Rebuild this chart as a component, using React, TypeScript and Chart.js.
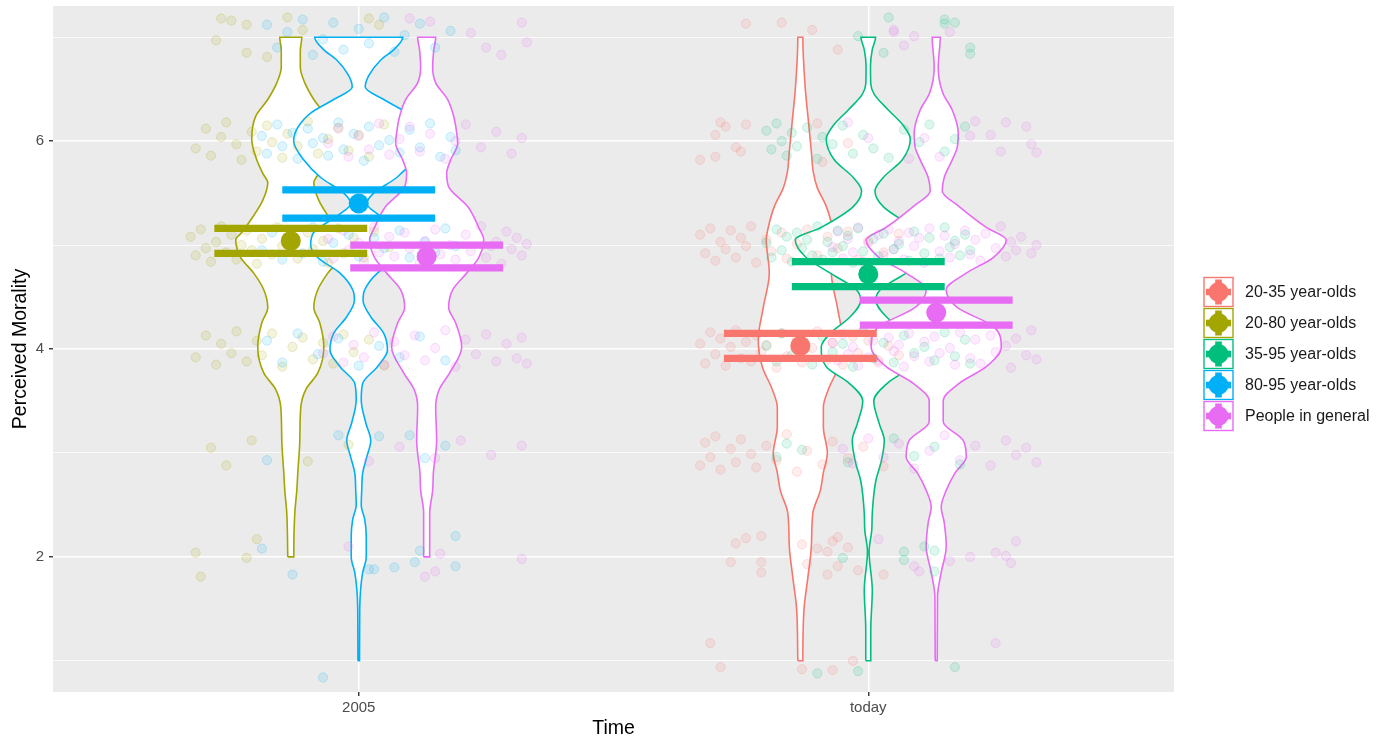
import React, { useEffect, useRef } from "react";
import { Chart, registerables } from "chart.js";

Chart.register(...registerables);

// ---------------- categories & labels ----------------
const timeLabels = ["2005", "today"];
const groupNames = ["20-35 year-olds", "20-80 year-olds", "35-95 year-olds", "80-95 year-olds", "People in general"];
const groupColors = ["#F8766D", "#A3A500", "#00BF7D", "#00B0F6", "#E76BF3"];
const yTickValues = [1, 2, 3, 4, 5, 6, 7];
const xAxisTitle = "Time";
const yAxisTitle = "Perceived Morality";

// ---------------- means with confidence bounds ----------------
const meanGroups = [0, 1, 2, 3, 4, 4];
const meanTimes = [1, 0, 1, 0, 0, 1];
const meanSlots = [0, 0, 1, 1, 2, 2];
const meanValues = [4.03, 5.04, 4.72, 5.40, 4.89, 4.35];
const upperValues = [4.15, 5.16, 4.84, 5.53, 5.00, 4.47];
const lowerValues = [3.91, 4.92, 4.60, 5.26, 4.78, 4.23];

// ---------------- violin density profiles (level, half-width in density units) ----------------
const violinRed2035Today = [[1.0, 2.5], [1.5, 3.7], [1.8, 7.5], [2.1, 11], [2.42, 12.5], [2.64, 20], [2.81, 23], [3.0, 27], [3.25, 23], [3.44, 23], [3.61, 28], [3.83, 38], [4.09, 42], [4.4, 37], [4.73, 31], [5.05, 34], [5.17, 32], [5.37, 26], [5.55, 17], [5.7, 13], [5.9, 11], [6.2, 8], [6.5, 5], [7.0, 2.5]];
const violinOlive2080_2005 = [[2.0, 3], [2.42, 4], [2.64, 6], [2.81, 7], [3.12, 9], [3.44, 10], [3.61, 15], [3.77, 27], [4.02, 33], [4.25, 29], [4.4, 23], [4.57, 27], [4.73, 37], [4.88, 50], [5.05, 55], [5.12, 49], [5.27, 38], [5.43, 28], [5.6, 23], [5.69, 28], [5.82, 34], [6.02, 39], [6.24, 35], [6.4, 23], [6.56, 14], [6.71, 9.5], [6.87, 9.5], [7.0, 11]];
const violinGreen3595Today = [[1.0, 2.5], [1.3, 2.5], [1.68, 4], [2.05, 0.8], [2.26, 3.5], [2.42, 4], [2.73, 7.5], [2.92, 13], [3.12, 16], [3.28, 11], [3.5, 5.5], [3.67, 19], [3.83, 42], [4.02, 47], [4.15, 38], [4.31, 18], [4.47, 7.5], [4.57, 12], [4.73, 38], [4.88, 62], [5.05, 73], [5.17, 47], [5.37, 15], [5.52, 6.7], [5.65, 15], [5.82, 34], [6.02, 42], [6.15, 35], [6.3, 20], [6.45, 6], [6.55, 2.5], [6.72, 2.2], [6.88, 4], [7.0, 7.3]];
const violinBlue8095_2005 = [[1.0, 0.8], [1.5, 1], [1.7, 2], [1.85, 4], [2.0, 7.5], [2.2, 7.5], [2.36, 6], [2.5, 2.5], [2.64, 3], [2.81, 4], [2.96, 8], [3.12, 12], [3.29, 7], [3.51, 2.5], [3.67, 4], [3.83, 18.7], [3.99, 28.7], [4.15, 25], [4.31, 12], [4.47, 4.3], [4.57, 6], [4.73, 18.7], [4.88, 41], [5.0, 48], [5.12, 45], [5.29, 20], [5.4, 8], [5.5, 15], [5.65, 38], [5.82, 55], [6.0, 65], [6.13, 61], [6.27, 48], [6.4, 25], [6.52, 6.5], [6.63, 10], [6.78, 22], [6.88, 35], [7.0, 44]];
const violinPink2005 = [[2.0, 3], [2.42, 3], [2.64, 6], [2.81, 6.7], [3.12, 10], [3.44, 9], [3.61, 12.5], [3.77, 23], [4.02, 35], [4.25, 29], [4.4, 22], [4.57, 26], [4.73, 40], [4.88, 52], [5.05, 57], [5.17, 52], [5.37, 41], [5.56, 22], [5.69, 20], [5.82, 24], [5.98, 31], [6.08, 30], [6.24, 27], [6.4, 21], [6.56, 9], [6.71, 6], [6.87, 7], [7.0, 9]];
const violinPinkToday = [[1.0, 1], [1.62, 1.3], [1.85, 5], [2.1, 10], [2.33, 8], [2.48, 5], [2.64, 10], [2.81, 19], [2.96, 30], [3.12, 27], [3.3, 7], [3.5, 7], [3.67, 23], [3.83, 50], [4.02, 65], [4.21, 58], [4.4, 21], [4.57, 10], [4.73, 30], [4.88, 57], [5.05, 70], [5.17, 50], [5.37, 23], [5.52, 6], [5.65, 8], [5.82, 16], [5.94, 21], [6.08, 22], [6.3, 16], [6.46, 6.7], [6.71, 2], [7.0, 4]];

// ---------------- jittered raw responses (x on the time axis, y rating) ----------------
const pointsRedToday = [
  [1.76, 7.13], [1.83, 7.14], [1.89, 7.07], [1.94, 6.88],
  [1.71, 6.18], [1.72, 6.14], [1.70, 6.06], [1.76, 6.16], [1.74, 5.94], [1.75, 5.9], [1.70, 5.85], [1.67, 5.82], [1.90, 6.17], [1.96, 5.98], [1.91, 5.8],
  [1.67, 5.1], [1.68, 4.92], [1.69, 5.16], [1.70, 4.85], [1.71, 5.03], [1.72, 4.96], [1.73, 5.14], [1.74, 4.88], [1.75, 5.07], [1.76, 4.99], [1.77, 5.18], [1.78, 4.83], [1.80, 5.05], [1.81, 4.94], [1.83, 5.12], [1.84, 4.87], [1.86, 5.01], [1.88, 5.15], [1.90, 4.9], [1.92, 5.08], [1.94, 4.97], [1.96, 5.13], [1.98, 4.86], [2.00, 5.04], [2.03, 4.93], [2.06, 5.11],
  [1.67, 4.05], [1.68, 3.86], [1.69, 4.16], [1.70, 3.95], [1.71, 4.1], [1.72, 3.84], [1.73, 4.02], [1.74, 4.18], [1.75, 3.91], [1.76, 4.07], [1.77, 3.88], [1.78, 4.13], [1.79, 3.97], [1.80, 4.04], [1.82, 3.82], [1.83, 4.15], [1.84, 3.93], [1.86, 4.09], [1.87, 3.87], [1.89, 4.01], [1.90, 4.17], [1.92, 3.9], [1.93, 4.06], [1.95, 3.85], [1.97, 4.12], [1.98, 3.96], [2.00, 4.08], [2.02, 3.89], [2.04, 4.03], [2.06, 3.94],
  [1.67, 2.88], [1.68, 3.1], [1.69, 2.96], [1.70, 3.16], [1.71, 2.84], [1.73, 3.04], [1.74, 2.91], [1.75, 3.13], [1.77, 2.99], [1.78, 2.86], [1.80, 3.07], [1.82, 2.93], [1.84, 3.18], [1.86, 2.82], [1.88, 3.02], [1.91, 2.89], [1.93, 3.11], [1.96, 2.95], [1.99, 3.06], [2.03, 2.87],
  [1.74, 2.13], [1.76, 2.18], [1.79, 2.2], [1.73, 1.95], [1.79, 1.95], [1.79, 1.85], [1.87, 2.12], [1.90, 2.08], [1.92, 2.05], [1.93, 2.15], [1.94, 2.19], [1.96, 2.09], [1.88, 1.93], [1.92, 1.83], [1.98, 1.87], [1.94, 1.91], [2.03, 1.83],
  [1.69, 1.17], [1.71, 0.94], [1.87, 0.92], [1.93, 0.91], [1.97, 1.0]
];
const pointsOlive2005 = [
  [0.73, 7.18], [0.75, 7.16], [0.78, 7.12], [0.86, 7.19], [0.89, 7.07], [1.02, 7.18], [1.04, 7.12], [0.72, 6.97], [0.78, 6.85], [0.82, 6.81],
  [0.68, 5.93], [0.70, 6.12], [0.71, 5.86], [0.73, 6.04], [0.74, 6.18], [0.76, 5.97], [0.77, 5.82], [0.79, 6.09], [0.80, 5.9], [0.82, 6.15], [0.83, 5.99], [0.85, 5.84], [0.86, 6.07], [0.88, 5.95], [0.90, 6.19], [0.92, 5.88], [0.94, 6.02], [0.96, 6.13], [0.98, 5.91], [1.00, 6.06], [1.02, 5.85], [1.05, 6.16],
  [0.67, 5.08], [0.68, 4.9], [0.69, 5.15], [0.70, 4.97], [0.71, 4.84], [0.72, 5.03], [0.73, 5.18], [0.74, 4.93], [0.75, 5.1], [0.76, 4.86], [0.77, 5.0], [0.78, 5.14], [0.79, 4.95], [0.80, 4.82], [0.81, 5.06], [0.83, 4.91], [0.84, 5.17], [0.85, 4.99], [0.87, 5.09], [0.88, 4.87], [0.90, 5.12], [0.91, 4.96], [0.93, 5.04], [0.94, 4.83], [0.96, 5.16], [0.97, 4.92], [0.99, 5.07], [1.01, 4.88], [1.03, 5.13], [1.06, 4.98],
  [0.68, 3.92], [0.70, 4.13], [0.72, 3.85], [0.73, 4.05], [0.75, 3.96], [0.76, 4.17], [0.78, 3.88], [0.80, 4.08], [0.81, 3.94], [0.83, 4.15], [0.85, 3.83], [0.87, 4.02], [0.89, 4.11], [0.91, 3.9], [0.93, 4.06], [0.95, 3.86], [0.97, 4.14], [0.99, 3.97], [1.02, 4.09], [1.05, 3.84],
  [0.71, 3.05], [0.74, 2.88], [0.79, 3.12], [0.90, 2.92], [0.98, 3.08],
  [0.68, 2.04], [0.69, 1.81], [0.78, 1.99], [0.80, 2.17]
];
const pointsGreenToday = [
  [2.04, 7.19], [2.15, 7.13], [2.15, 7.17], [2.17, 7.14], [2.20, 6.9], [2.20, 6.84], [2.03, 6.85], [1.98, 7.01],
  [1.80, 6.1], [1.81, 5.92], [1.82, 6.17], [1.83, 6.0], [1.84, 5.86], [1.85, 6.08], [1.86, 5.95], [1.88, 6.13], [1.90, 5.83], [1.91, 6.04], [1.93, 5.97], [1.95, 6.15], [1.97, 5.88], [1.99, 6.06], [2.01, 5.93], [2.04, 5.84], [2.07, 6.11], [2.10, 5.99], [2.12, 6.16], [2.15, 5.9], [2.17, 6.02], [2.19, 6.14],
  [1.80, 5.02], [1.81, 4.88], [1.82, 5.15], [1.83, 4.95], [1.84, 5.08], [1.85, 4.84], [1.86, 5.12], [1.87, 4.97], [1.88, 5.05], [1.89, 4.9], [1.90, 5.18], [1.91, 4.86], [1.92, 5.03], [1.93, 4.93], [1.94, 5.14], [1.95, 4.99], [1.96, 5.09], [1.97, 4.83], [1.98, 5.16], [1.99, 4.94], [2.01, 5.06], [2.02, 4.89], [2.03, 5.11], [2.05, 4.96], [2.06, 5.01], [2.08, 4.85], [2.09, 5.13], [2.11, 4.92], [2.12, 5.07], [2.14, 4.87], [2.15, 5.17], [2.16, 4.98], [2.17, 5.04], [2.18, 4.9], [2.19, 5.1], [2.20, 4.95],
  [1.80, 4.03], [1.82, 3.88], [1.83, 4.15], [1.85, 3.94], [1.87, 4.08], [1.89, 3.85], [1.91, 4.12], [1.93, 3.97], [1.95, 4.05], [1.97, 3.83], [1.99, 4.17], [2.01, 3.91], [2.03, 4.06], [2.05, 3.87], [2.07, 4.13], [2.09, 3.96], [2.11, 4.02], [2.13, 3.89], [2.15, 4.16], [2.17, 3.93], [2.19, 4.09], [2.20, 3.86],
  [1.82, 2.96], [1.84, 3.09], [1.87, 3.03], [1.96, 2.91], [2.05, 3.14], [2.09, 2.97], [2.13, 3.06], [2.18, 2.89],
  [2.07, 2.05], [2.07, 1.97], [2.11, 2.1], [2.13, 2.06], [2.13, 1.86], [1.95, 1.99],
  [1.90, 0.88], [1.98, 0.9], [2.17, 0.94]
];
const pointsBlue2005 = [
  [0.82, 7.12], [0.84, 6.9], [0.86, 7.05], [0.89, 7.17], [0.91, 6.83], [0.93, 6.98], [0.95, 7.14], [0.97, 6.88], [1.00, 7.08], [1.02, 6.94], [1.05, 7.19], [1.07, 6.86], [1.09, 7.02], [1.12, 7.13], [1.15, 6.9], [1.18, 7.06],
  [0.81, 6.05], [0.82, 5.88], [0.84, 6.16], [0.85, 5.95], [0.87, 6.08], [0.88, 5.83], [0.90, 6.12], [0.91, 5.98], [0.93, 6.03], [0.94, 5.86], [0.96, 6.18], [0.97, 5.92], [0.99, 6.07], [1.01, 5.81], [1.02, 6.14], [1.04, 5.96], [1.06, 6.01], [1.08, 5.89], [1.10, 6.11], [1.12, 5.94], [1.14, 6.17], [1.16, 5.85], [1.18, 6.04], [1.19, 5.91],
  [0.81, 4.95], [0.83, 5.12], [0.85, 4.86], [0.87, 5.05], [0.89, 4.92], [0.91, 5.17], [0.93, 4.84], [0.95, 5.02], [0.98, 5.1], [1.00, 4.89], [1.03, 5.07], [1.05, 4.97], [1.08, 5.14], [1.10, 4.88], [1.13, 5.03], [1.15, 4.93], [1.17, 5.16], [1.19, 4.99],
  [0.82, 4.08], [0.85, 3.87], [0.88, 4.15], [0.92, 3.95], [0.96, 4.1], [1.00, 3.84], [1.04, 4.03], [1.08, 3.92], [1.12, 4.12], [1.17, 3.89],
  [0.82, 2.93], [0.96, 3.17], [1.04, 3.16], [1.10, 3.17], [1.13, 2.95], [1.17, 3.07],
  [0.81, 2.08], [0.87, 1.83], [1.02, 1.88], [1.03, 1.88], [1.07, 1.9], [1.11, 1.95], [1.12, 2.06], [1.19, 2.2], [1.19, 1.91],
  [0.93, 0.84]
];
const pointsPink2005 = [
  [1.10, 7.18], [1.14, 7.15], [1.22, 7.04], [1.25, 6.9], [1.28, 6.83], [1.32, 7.14], [1.33, 6.95],
  [0.94, 5.98], [0.96, 6.12], [0.98, 5.85], [1.00, 6.05], [1.02, 5.92], [1.04, 6.17], [1.06, 5.87], [1.08, 6.02], [1.10, 6.14], [1.12, 5.9], [1.14, 6.07], [1.17, 5.83], [1.19, 6.0], [1.21, 6.16], [1.24, 5.94], [1.27, 6.09], [1.30, 5.88], [1.32, 6.03],
  [0.94, 5.06], [0.95, 4.87], [0.97, 5.14], [0.98, 4.95], [1.00, 5.02], [1.01, 4.84], [1.03, 5.17], [1.04, 4.93], [1.06, 5.08], [1.07, 4.89], [1.09, 5.12], [1.10, 4.97], [1.12, 4.83], [1.13, 5.04], [1.15, 5.15], [1.16, 4.91], [1.18, 5.0], [1.19, 4.86], [1.21, 5.1], [1.22, 4.94], [1.24, 5.18], [1.25, 4.88], [1.27, 5.03], [1.28, 4.82], [1.29, 5.13], [1.30, 4.96], [1.31, 5.07], [1.32, 4.9], [1.33, 5.01], [1.26, 4.99],
  [0.93, 3.96], [0.95, 4.12], [0.97, 3.87], [0.99, 4.04], [1.01, 3.92], [1.03, 4.16], [1.05, 3.85], [1.07, 4.07], [1.09, 3.94], [1.11, 4.13], [1.13, 3.89], [1.15, 4.01], [1.17, 4.18], [1.19, 3.83], [1.21, 4.09], [1.23, 3.95], [1.25, 4.14], [1.27, 3.88], [1.29, 4.05], [1.31, 3.91], [1.32, 4.11], [1.33, 3.86],
  [1.02, 2.92], [1.08, 3.06], [1.15, 2.95], [1.20, 3.12], [1.26, 2.98], [1.32, 3.07],
  [0.98, 2.1], [1.13, 1.81], [1.15, 1.86], [1.16, 2.03], [1.32, 1.98]
];
const pointsPinkToday = [
  [2.05, 7.05], [2.05, 7.07], [2.09, 7.01], [2.07, 6.92], [2.16, 7.05],
  [1.96, 6.18], [2.00, 6.03], [2.21, 6.19], [2.27, 6.18], [2.31, 6.14], [2.24, 6.06], [2.26, 5.9], [2.32, 5.97], [2.33, 5.89], [2.20, 6.05], [2.11, 6.03], [2.14, 5.85], [2.08, 5.83],
  [1.93, 4.98], [1.94, 5.13], [1.95, 4.87], [1.96, 5.06], [1.97, 4.93], [1.98, 5.17], [1.99, 4.84], [2.00, 5.02], [2.02, 5.1], [2.03, 4.9], [2.04, 5.15], [2.05, 4.96], [2.06, 5.04], [2.07, 4.86], [2.08, 5.12], [2.09, 4.99], [2.10, 5.07], [2.11, 4.83], [2.12, 5.16], [2.14, 4.94], [2.15, 5.09], [2.16, 4.88], [2.17, 5.01], [2.19, 5.14], [2.20, 4.91], [2.21, 5.05], [2.22, 4.85], [2.23, 5.11], [2.25, 4.97], [2.26, 5.18], [2.27, 4.89], [2.28, 5.03], [2.29, 4.95], [2.30, 5.08], [2.32, 4.92], [2.33, 5.0],
  [1.93, 4.06], [1.94, 3.89], [1.95, 4.14], [1.96, 3.95], [1.97, 4.02], [1.98, 3.84], [1.99, 4.17], [2.00, 3.92], [2.01, 4.08], [2.02, 3.87], [2.04, 4.11], [2.05, 3.98], [2.06, 4.04], [2.07, 3.83], [2.08, 4.15], [2.09, 3.93], [2.11, 4.07], [2.12, 3.88], [2.13, 4.12], [2.14, 3.96], [2.16, 4.01], [2.17, 3.85], [2.18, 4.16], [2.20, 3.91], [2.21, 4.09], [2.22, 3.86], [2.24, 4.13], [2.25, 3.97], [2.27, 4.03], [2.28, 3.82], [2.29, 4.1], [2.31, 3.94], [2.32, 4.18], [2.33, 3.9],
  [1.95, 3.04], [1.97, 2.9], [2.00, 3.14], [2.03, 2.96], [2.06, 3.09], [2.09, 2.85], [2.12, 3.02], [2.15, 3.17], [2.18, 2.93], [2.21, 3.07], [2.24, 2.88], [2.27, 3.12], [2.29, 2.98], [2.31, 3.05], [2.33, 2.91],
  [2.02, 2.17], [2.09, 1.91], [2.10, 1.86], [2.20, 2.0], [2.25, 2.04], [2.27, 2.01], [2.29, 2.15], [2.28, 1.94], [2.16, 1.96],
  [2.25, 1.17]
];

// draw order follows the group order of the original figure
const violinProfiles = [violinRed2035Today, violinOlive2080_2005, violinGreen3595Today, violinBlue8095_2005, violinPink2005, violinPinkToday];
const jitterSets = [pointsRedToday, pointsOlive2005, pointsGreenToday, pointsBlue2005, pointsPink2005, pointsPinkToday];

// ---------------- styling constants ----------------
const FONT = "'Liberation Sans', Arial, Helvetica, sans-serif";
const DODGE_WIDTH = 0.4;
const ERRORBAR_HALF = 0.15;
const DENSITY_TO_AXIS = 1 / 509;

function hexToRgba(hex: string, a: number) {
  const n = parseInt(hex.slice(1), 16);
  return `rgba(${(n >> 16) & 255},${(n >> 8) & 255},${n & 255},${a})`;
}

function slotCenter(timeIdx: number, slot: number) {
  return timeIdx + 1 + (slot - 1) * (DODGE_WIDTH / 3);
}

function buildDatasets() {
  const ds: any[] = [];
  const n = meanGroups.length;
  for (let k = 0; k < n; k++) {
    const color = groupColors[meanGroups[k]];
    const c = slotCenter(meanTimes[k], meanSlots[k]);
    const prof = violinProfiles[k];
    const left = prof.map(([v, w]) => ({ x: c - w * DENSITY_TO_AXIS, y: v }));
    const right = prof.slice().reverse().map(([v, w]) => ({ x: c + w * DENSITY_TO_AXIS, y: v }));
    const path = [...left, ...right, left[0]];
    ds.push({
      label: "violin" + k,
      data: path,
      indexAxis: "y",
      showLine: true,
      pointRadius: 0,
      borderColor: color,
      borderWidth: 1.6,
      backgroundColor: "#FFFFFF",
      fill: "shape",
      cubicInterpolationMode: "monotone",
      tension: 0.4,
      order: 1000 - k,
    });
  }
  for (let k = 0; k < n; k++) {
    const color = groupColors[meanGroups[k]];
    ds.push({
      label: "points" + k,
      data: jitterSets[k].map(([x, y]) => ({ x, y })),
      showLine: false,
      pointRadius: 4.6,
      pointBorderWidth: 1,
      backgroundColor: hexToRgba(color, 0.13),
      borderColor: hexToRgba(color, 0.2),
      order: 600 - k,
    });
  }
  for (let k = 0; k < n; k++) {
    const color = groupColors[meanGroups[k]];
    const c = slotCenter(meanTimes[k], meanSlots[k]);
    ds.push({
      label: "errorbar" + k,
      data: [
        { x: c - ERRORBAR_HALF, y: upperValues[k] },
        { x: c + ERRORBAR_HALF, y: upperValues[k] },
        { x: c, y: null },
        { x: c - ERRORBAR_HALF, y: lowerValues[k] },
        { x: c + ERRORBAR_HALF, y: lowerValues[k] },
      ],
      showLine: true,
      spanGaps: false,
      pointRadius: 0,
      borderColor: color,
      borderWidth: 7.3,
      borderCapStyle: "butt",
      fill: false,
      order: 300 - k,
    });
    ds.push({
      label: "mean" + k,
      data: [{ x: c, y: meanValues[k] }],
      showLine: false,
      pointRadius: 10,
      pointBorderWidth: 0,
      backgroundColor: color,
      borderColor: color,
      order: 100 - k,
    });
  }
  return ds;
}

const panelPlugin = {
  id: "ggPanel",
  beforeDraw(chart: any) {
    const { ctx, chartArea } = chart;
    ctx.save();
    ctx.fillStyle = "#EBEBEB";
    ctx.fillRect(chartArea.left, chartArea.top, chartArea.right - chartArea.left, chartArea.bottom - chartArea.top);
    ctx.restore();
  },
};

const legendPlugin = {
  id: "ggLegend",
  afterDraw(chart: any) {
    const { ctx, chartArea } = chart;
    const boxLeft = chartArea.right + 29;
    const boxSize = 31;
    const firstTop = chartArea.top + 270.5;
    ctx.save();
    groupNames.forEach((name, i) => {
      const color = groupColors[i];
      const top = firstTop + i * boxSize;
      const cx = boxLeft + boxSize / 2;
      const cy = top + boxSize / 2;
      ctx.fillStyle = "#FFFFFF";
      ctx.fillRect(boxLeft, top, boxSize, boxSize);
      ctx.strokeStyle = color;
      ctx.lineWidth = 1.4;
      ctx.strokeRect(boxLeft + 1, top + 1, boxSize - 2, boxSize - 2);
      ctx.fillStyle = color;
      ctx.fillRect(cx - 3.3, top + 3, 6.6, boxSize - 6);
      ctx.fillRect(boxLeft + 3, cy - 3.3, boxSize - 6, 6.6);
      ctx.beginPath();
      ctx.arc(cx, cy, 10, 0, Math.PI * 2);
      ctx.fill();
      ctx.fillStyle = "#1A1A1A";
      ctx.font = `16px ${FONT}`;
      ctx.textBaseline = "middle";
      ctx.textAlign = "left";
      ctx.fillText(name, boxLeft + boxSize + 11, cy + 0.5);
    });
    ctx.restore();
  },
};

export default function App() {
  const canvasRef = useRef<HTMLCanvasElement | null>(null);

  useEffect(() => {
    const canvas = canvasRef.current;
    if (!canvas) return;
    const chart = new Chart(canvas, {
      type: "scatter",
      data: { datasets: buildDatasets() },
      options: {
        animation: false,
        responsive: false,
        devicePixelRatio: 1,
        events: [],
        layout: { autoPadding: false, padding: { top: 6, right: 212, bottom: 0, left: 0 } },
        plugins: {
          legend: { display: false },
          tooltip: { enabled: false },
        },
        scales: {
          x: {
            type: "linear",
            min: 0.4,
            max: 2.6,
            afterBuildTicks: (scale: any) => {
              scale.ticks = timeLabels.map((_, i) => ({ value: i + 1 }));
            },
            afterFit: (scale: any) => {
              scale.height = 51;
              scale.paddingLeft = 0;
              scale.paddingRight = 0;
            },
            ticks: {
              callback: (v: any) => timeLabels[Math.round(v) - 1] ?? "",
              color: "#4D4D4D",
              font: { family: FONT, size: 15 },
              padding: 3,
              maxRotation: 0,
              autoSkip: false,
            },
            grid: {
              color: "#FFFFFF",
              lineWidth: 1.5,
              tickColor: "#333333",
              tickLength: 4,
              tickWidth: 1.4,
            },
            border: { display: false },
            title: {
              display: true,
              text: xAxisTitle,
              color: "#000000",
              font: { family: FONT, size: 19.5 },
              padding: { top: 0, bottom: 3 },
            },
          },
          y: {
            type: "linear",
            min: 0.7,
            max: 7.3,
            afterBuildTicks: (scale: any) => {
              scale.ticks = yTickValues.map((v) => ({ value: v }));
            },
            afterFit: (scale: any) => {
              scale.width = 53;
              scale.paddingTop = 0;
              scale.paddingBottom = 0;
            },
            ticks: {
              callback: (v: any) => (Number(v) % 2 === 0 ? String(v) : ""),
              color: "#4D4D4D",
              font: { family: FONT, size: 15 },
              padding: 5,
              autoSkip: false,
            },
            grid: {
              color: "#FFFFFF",
              lineWidth: (ctx: any) => (ctx.tick && ctx.tick.value % 2 === 0 ? 1.5 : 0.75),
              tickColor: (ctx: any) => (ctx.tick && ctx.tick.value % 2 === 0 ? "#333333" : "rgba(0,0,0,0)"),
              tickLength: 4,
              tickWidth: 1.4,
            },
            border: { display: false },
            title: {
              display: true,
              text: yAxisTitle,
              color: "#000000",
              font: { family: FONT, size: 19.5 },
              padding: { top: 9, bottom: 0 },
            },
          },
        },
      },
      plugins: [panelPlugin, legendPlugin],
    } as any);
    chart.update();
    return () => {
      chart.destroy();
    };
  }, []);

  return (
    <div style={{ position: "fixed", left: 0, top: 0, width: 1386, height: 743, background: "#FFFFFF" }}>
      <canvas ref={canvasRef} width={1386} height={743} style={{ display: "block", width: 1386, height: 743 }} />
    </div>
  );
}
